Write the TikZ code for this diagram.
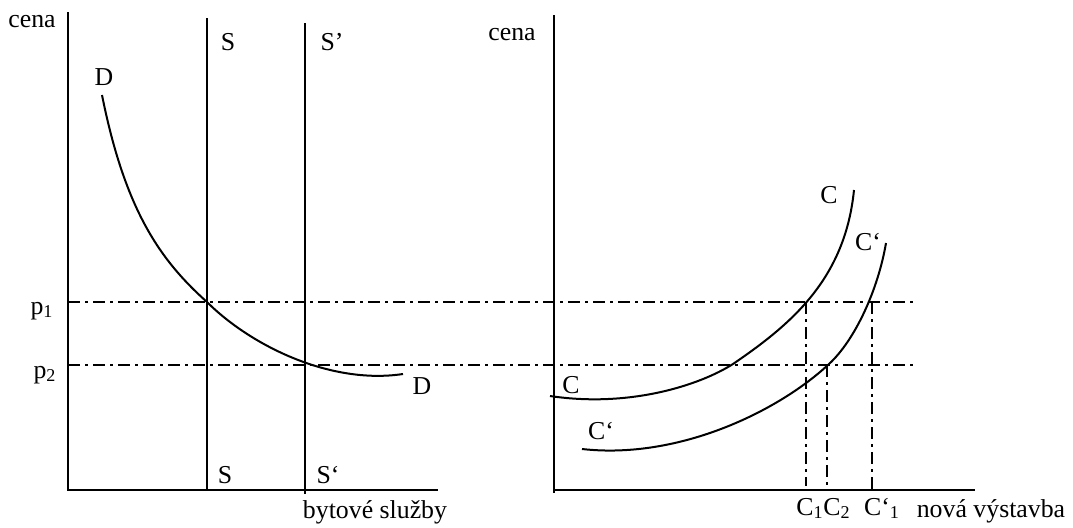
\documentclass[tikz,border=0pt]{standalone}
\usepackage{fontspec}
\setmainfont{Liberation Serif}

\begin{document}
\begin{tikzpicture}[x=0.5pt,y=-0.5pt,
  axis/.style={line width=1pt},
  curve/.style={line width=1pt},
  guide/.style={line width=0.9pt,dash pattern=on 6pt off 2.5pt on 1.5pt off 2.5pt},
  lbl/.style={inner sep=0pt,anchor=base,font=\fontsize{12.9}{15}\selectfont}]
\useasboundingbox (0,0) rectangle (1073,527);
% left panel
\coordinate (ytopL) at (68,12);
\coordinate (origL) at (68,490);
\coordinate (xendL) at (438,490);
\coordinate (stop) at (207,18);
\coordinate (sbot) at (207,490);
\coordinate (sptop) at (305,23);
\coordinate (spbot) at (305,494);
% right panel
\coordinate (ytopR) at (554,15);
\coordinate (origR) at (554,490);
\coordinate (ybotR) at (554,493);
\coordinate (xendR) at (975,490);
% price levels
\coordinate (p1a) at (68,302);
\coordinate (p1b) at (915,302);
\coordinate (p2a) at (68,365);
\coordinate (p2b) at (915,365);
\coordinate (c1top) at (806,302);
\coordinate (c1bot) at (806,486);
\coordinate (c2top) at (827,365);
\coordinate (c2bot) at (827,488);
\coordinate (c3top) at (872,302);
\coordinate (c3bot) at (872,490);

\draw[axis] (ytopL) -- (origL) -- (xendL);
\draw[axis] (stop) -- (sbot);
\draw[axis] (sptop) -- (spbot);
\draw[axis] (ytopR) -- (ybotR);
\draw[axis] (origR) -- (xendR);

\draw[guide] (p1a) -- (p1b);
\draw[guide] (p2a) -- (p2b);
\draw[guide] (c1top) -- (c1bot);
\draw[guide] (c2top) -- (c2bot);
\draw[guide] (c3top) -- (c3bot);

\draw[curve] (102,95) .. controls (125,210) and (160,260) .. (207,302)
  .. controls (250,345) and (330,385) .. (403,374);
\draw[curve] (550,396) .. controls (630,408) and (700,385) .. (733,364)
  .. controls (790,325) and (845,280) .. (854,190);
\draw[curve] (582,449) .. controls (680,460) and (780,410) .. (829,364)
  .. controls (855,340) and (878,290) .. (886,243);

\node[lbl] (cenaL) at (32,27) {cena};
\node[lbl] (cenaR) at (512,40) {cena};
\node[lbl] (dTop) at (104,85) {D};
\node[lbl] (dBot) at (422,394) {D};
\node[lbl] (sTop) at (228,50) {S};
\node[lbl] (spTop) at (332,50) {S’};
\node[lbl] (sBot) at (225,483) {S};
\node[lbl] (spBot) at (328,483) {S‘};
\node[lbl] (pOne) at (42,314) {p\textsubscript{1}};
\node[lbl] (pTwo) at (45,378) {p\textsubscript{2}};
\node[lbl] (byt) at (375,518) {bytové služby};
\node[lbl] (cTop) at (829,203) {C};
\node[lbl] (cpTop) at (868,250) {C‘};
\node[lbl] (cBot) at (571,393) {C};
\node[lbl] (cpBot) at (601,439) {C‘};
\node[lbl] (cOne) at (810,515) {C\textsubscript{1}};
\node[lbl] (cTwo) at (837,515) {C\textsubscript{2}};
\node[lbl] (cpOne) at (882,515) {C‘\textsubscript{1}};
\node[lbl] (nova) at (991,517) {nová výstavba};
\end{tikzpicture}
\end{document}
